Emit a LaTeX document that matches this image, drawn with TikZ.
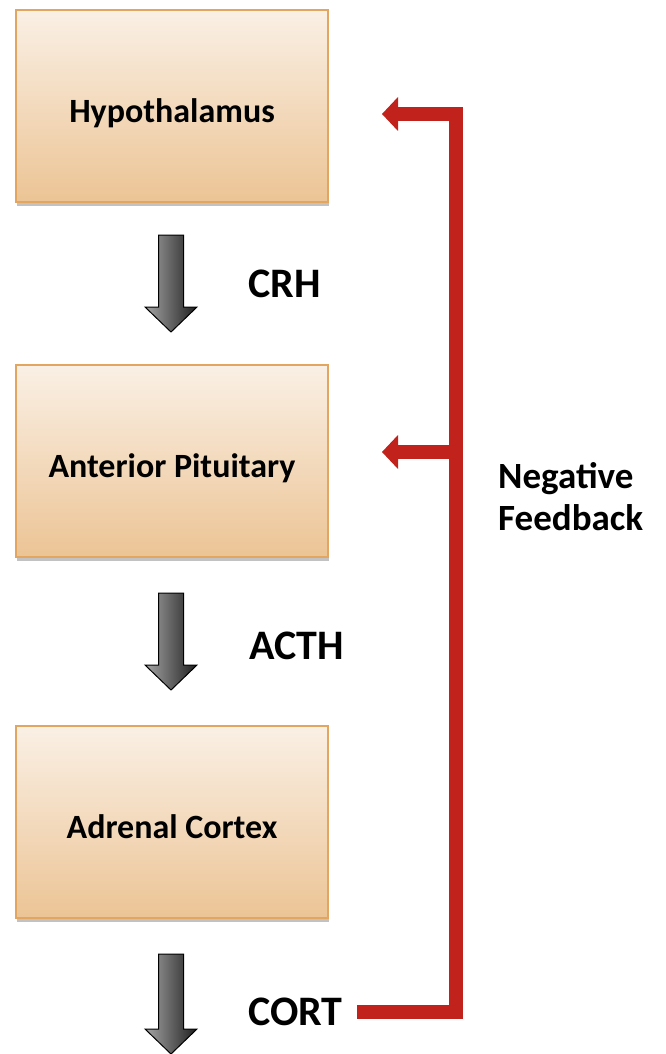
\documentclass[tikz,border=0pt]{standalone}
\usepackage{fontspec}
\setmainfont{Carlito}
\usetikzlibrary{shadows}
\definecolor{boxtop}{HTML}{FAF0E5}
\definecolor{boxbot}{HTML}{ECC495}
\definecolor{boxedge}{HTML}{E2A660}
\definecolor{fbred}{HTML}{C1221B}
\begin{document}
\begin{tikzpicture}[x=1pt,y=-1pt,
  organ/.style={draw=boxedge, line width=1.6pt, top color=boxtop, bottom color=boxbot,
    minimum width=312pt, minimum height=192pt, inner sep=0pt,
    text height=32pt, text depth=0pt,
    font=\fontsize{34}{40}\selectfont\bfseries,
    drop shadow={shadow xshift=1pt, shadow yshift=-4pt, opacity=0.4, fill=black!60}},
  hormone/.style={anchor=base west, inner sep=0pt, font=\fontsize{42}{50}\selectfont\bfseries},
  grayarrow/.style={left color=black!35, right color=black!88, draw=black, line width=1pt, line join=miter},
  fbline/.style={draw=fbred, line width=14pt, line join=miter},
  fbhead/.style={fill=fbred, draw=none}
]
\useasboundingbox (0,0) rectangle (665,1054);

% boxes
\node[organ] (hyp) at (172,106) {Hypothalamus};
\node[organ] (pit) at (172,461) {Anterior Pituitary};
\node[organ] (adr) at (172,822) {Adrenal Cortex};

% hormone labels
\node[hormone] (crh) at (248,297) {CRH};
\node[hormone] (acth) at (249,659) {ACTH};
\node[hormone] (cort) at (248,1025) {CORT};

% gray arrows
\newcommand\grayarrowpath[3]{%
  \shade[grayarrow] (#1-12.5,#2) -- (#1+12.5,#2) -- (#1+12.5,#3-25) -- (#1+26,#3-25)
    -- (#1,#3) -- (#1-26,#3-25) -- (#1-12.5,#3-25) -- cycle;}
\grayarrowpath{171}{235}{332}
\grayarrowpath{171}{593}{690}
\grayarrowpath{171}{954}{1054}

% negative feedback
\coordinate (fbtop) at (456,114);
\coordinate (fbmid) at (456,452);
\coordinate (fbbot) at (456,1012);
\coordinate (t1) at (382,114);
\coordinate (t2) at (382,452);
\draw[fbline] (357,1012) -- (fbbot) -- (fbtop) -- (397,114);
\draw[fbline] (fbmid) -- (397,452);
\fill[fbhead] (t1) -- (398,97) -- (398,131) -- cycle;
\fill[fbhead] (t2) -- (398,435) -- (398,469) -- cycle;

\node[anchor=base west, align=left, inner sep=0pt, font=\fontsize{37}{42}\selectfont\bfseries] (nf) at (498,530) {Negative\\Feedback};
\end{tikzpicture}
\end{document}
